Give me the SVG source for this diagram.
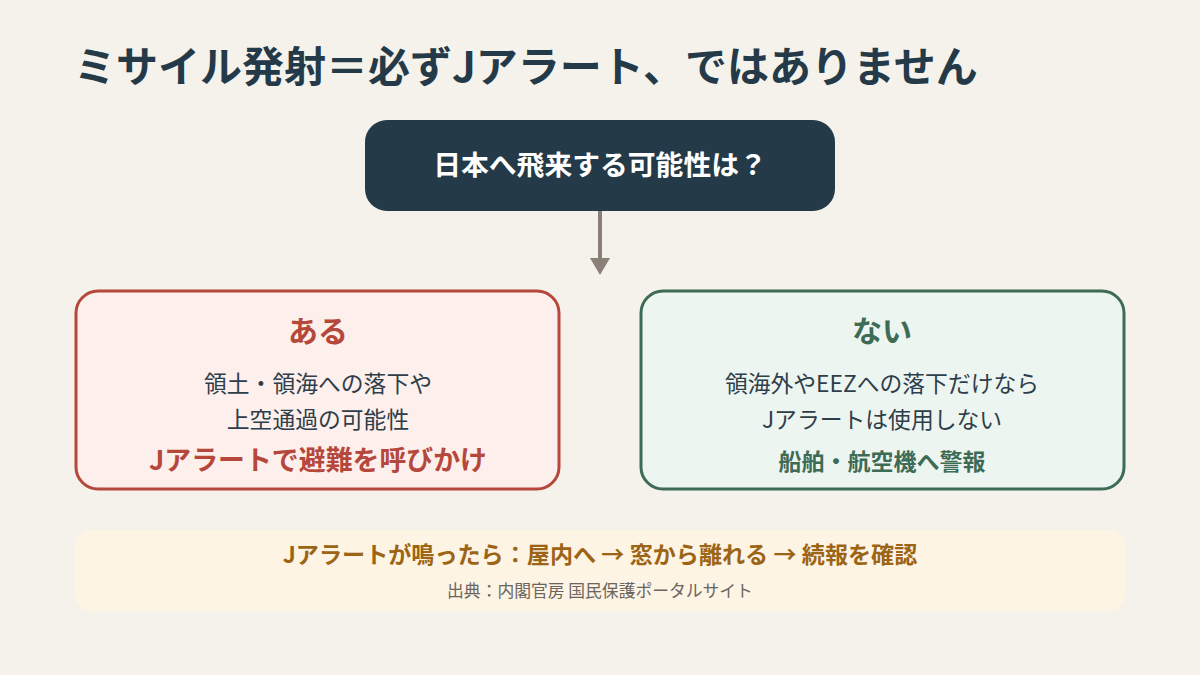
<svg xmlns="http://www.w3.org/2000/svg" width="1200" height="675" viewBox="0 0 1200 675">
<defs>
<style>
text{font-family:"Noto Sans CJK JP","Noto Sans",sans-serif;text-anchor:middle}
.title{font-size:42px;font-weight:700;fill:#243A48;text-anchor:start}
.q{font-size:27.8px;font-weight:700;fill:#FFFFFF}
.head{font-size:30px;font-weight:700}
.body{font-size:22.8px;fill:#2E3E4A}
.red{fill:#B5473B}
.green{fill:#3D6B55}
.tip{font-size:23.1px;font-weight:700;fill:#9C6415}
.src{font-size:16.8px;fill:#6B6560}
</style>
</defs>
<rect width="1200" height="675" fill="#F5F2EC"/>
<text class="title" x="74" y="82">ミサイル発射＝必ずJアラート、ではありません</text>
<g id="connectors">
<line x1="600" y1="211" x2="600" y2="260" stroke="#8A8078" stroke-width="4"/>
<polygon points="590,258 610,258 600,275" fill="#8A8078"/>
</g>
<g id="question">
<rect x="365" y="120" width="470" height="91" rx="22" fill="#243A48"/>
<text class="q" x="600" y="175">日本へ飛来する可能性は？</text>
</g>
<g id="yes">
<rect x="76" y="291" width="483" height="198" rx="22" fill="#FDEFEC" stroke="#B5473B" stroke-width="3"/>
<text class="head red" x="318" y="342">ある</text>
<text class="body" x="318" y="392">領土・領海への落下や</text>
<text class="body" x="318" y="428">上空通過の可能性</text>
<text class="red" x="318" y="470" font-size="26.9" font-weight="700">Jアラートで避難を呼びかけ</text>
</g>
<g id="no">
<rect x="641" y="291" width="483" height="198" rx="22" fill="#EDF5F1" stroke="#3D6B55" stroke-width="3"/>
<text class="head green" x="882" y="342">ない</text>
<text class="body" x="882" y="392">領海外やEEZへの落下だけなら</text>
<text class="body" x="882" y="428">Jアラートは使用しない</text>
<text class="green" x="882" y="470" font-size="23" font-weight="700">船舶・航空機へ警報</text>
</g>
<g id="tip">
<rect x="75" y="530" width="1050" height="81" rx="16" fill="#FDF4E4"/>
<text class="tip" x="600" y="563">Jアラートが鳴ったら：屋内へ → 窓から離れる → 続報を確認</text>
<text class="src" x="600" y="597">出典：内閣官房 国民保護ポータルサイト</text>
</g>
</svg>
